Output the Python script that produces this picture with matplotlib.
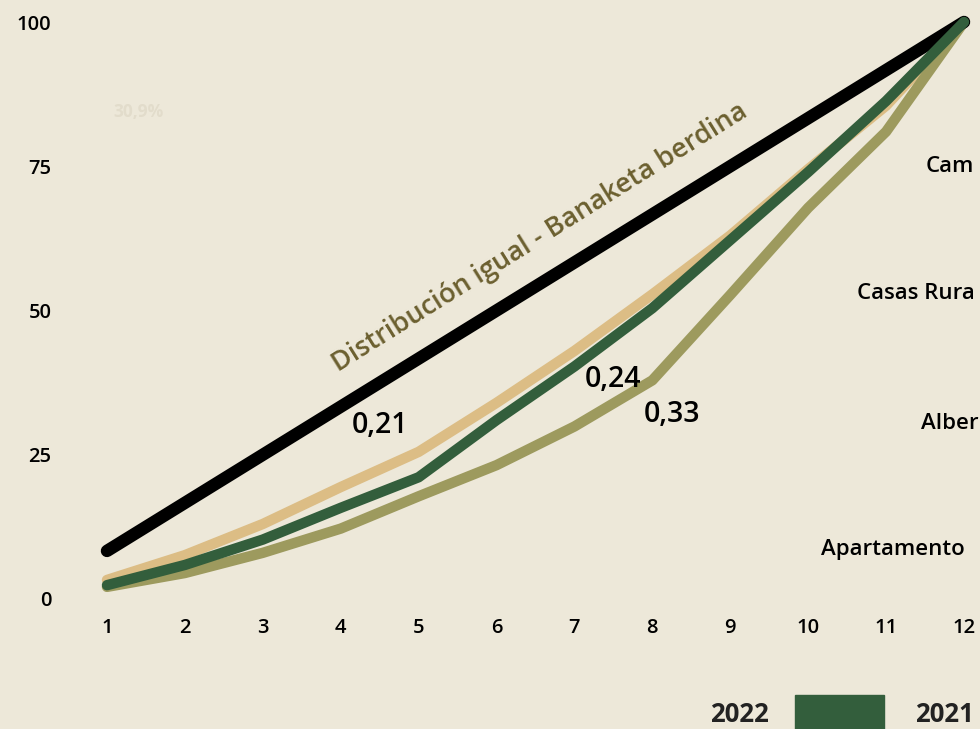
import matplotlib.pyplot as plt
import numpy as np

plt.rcParams['font.family'] = ['Open Sans', 'DejaVu Sans']

# Lorenz-type curves (cumulative %)
x = list(range(1, 13))
igual = [100 / 12 * i for i in x]
tan_vals = [3.3, 7.6, 13.0, 19.4, 25.5, 34.0, 43.0, 52.8, 63.0, 74.5, 85.5, 100]
green_vals = [2.4, 5.9, 10.3, 15.8, 21.1, 31.0, 40.3, 50.4, 62.2, 74.0, 86.3, 100]
olive_vals = [2.1, 4.5, 8.0, 12.2, 17.8, 23.2, 29.9, 37.9, 52.7, 67.8, 81.0, 100]

gini_labels = ['0,21', '0,24', '0,33']
gini_pos = [(4.5, 30.0), (7.5, 38.0), (8.25, 32.0)]
# right-hand labels are cut by the image edge in the original
side_labels = ['Cam', 'Casas Rura', 'Alber', 'Apartamento']
side_y = [75, 53, 30.5, 8.5]
side_x = [926, 857, 921, 821]

bg = '#ede8d9'
fig = plt.figure(figsize=(9.8, 7.29), dpi=100, facecolor=bg)
ax = fig.add_axes([107 / 980, 130 / 729, 857 / 980, 577 / 729])
ax.set_facecolor(bg)

ax.plot(x, igual, color='black', lw=9, solid_capstyle='round', clip_on=False, zorder=3)
ax.plot(x, tan_vals, color='#dcbd85', lw=7.5, solid_capstyle='round', clip_on=False, zorder=2)
ax.plot(x, olive_vals, color='#9d9a5e', lw=7.5, solid_capstyle='round', clip_on=False, zorder=2)
ax.plot(x, green_vals, color='#335e3c', lw=7.5, solid_capstyle='round', clip_on=False, zorder=3)

ax.set_xlim(1, 12)
ax.set_ylim(0, 100)
ax.set_xticks(x)
ax.set_yticks([0, 25, 50, 75, 100])
ax.tick_params(length=0, labelsize=14.5, colors='black')
ax.tick_params(axis='y', pad=40)
ax.tick_params(axis='x', pad=14)
for lab in ax.get_xticklabels() + ax.get_yticklabels():
    lab.set_fontweight('semibold')
for s in ax.spines.values():
    s.set_visible(False)

for txt, (px, py) in zip(gini_labels, gini_pos):
    ax.text(px, py, txt, fontsize=20.5, fontweight='semibold', ha='center', va='center', zorder=4)

ax.text(6.56, 62.6, 'Distribución igual - Banaketa berdina', rotation=32, rotation_mode='anchor',
        fontsize=19.5, fontweight='semibold', color='#6b5f2f', ha='center', va='center')

# faint watermark
fig.text(138 / 980, 1 - 112 / 729, '30,9%', fontsize=12.5, fontweight='bold',
         color='#e2dccb', ha='center', va='center')

for lab, sx, sy in zip(side_labels, side_x, side_y):
    fig.text(sx / 980, (130 + sy * 5.77) / 729, lab, fontsize=16, fontweight='semibold',
             ha='left', va='center')

# legend at bottom
fig.text(739 / 980, 1 - 714 / 729, '2022', fontsize=18.5, fontweight='bold', color='#222222',
         ha='center', va='center')
fig.patches.append(plt.Rectangle((795 / 980, 0), 89 / 980, 34 / 729, transform=fig.transFigure,
                                 color='#335e3c'))
fig.text(915 / 980, 1 - 714 / 729, '2021', fontsize=18.5, fontweight='bold', color='#222222',
         ha='left', va='center')

fig.savefig('out.png', dpi=100, facecolor=bg)
